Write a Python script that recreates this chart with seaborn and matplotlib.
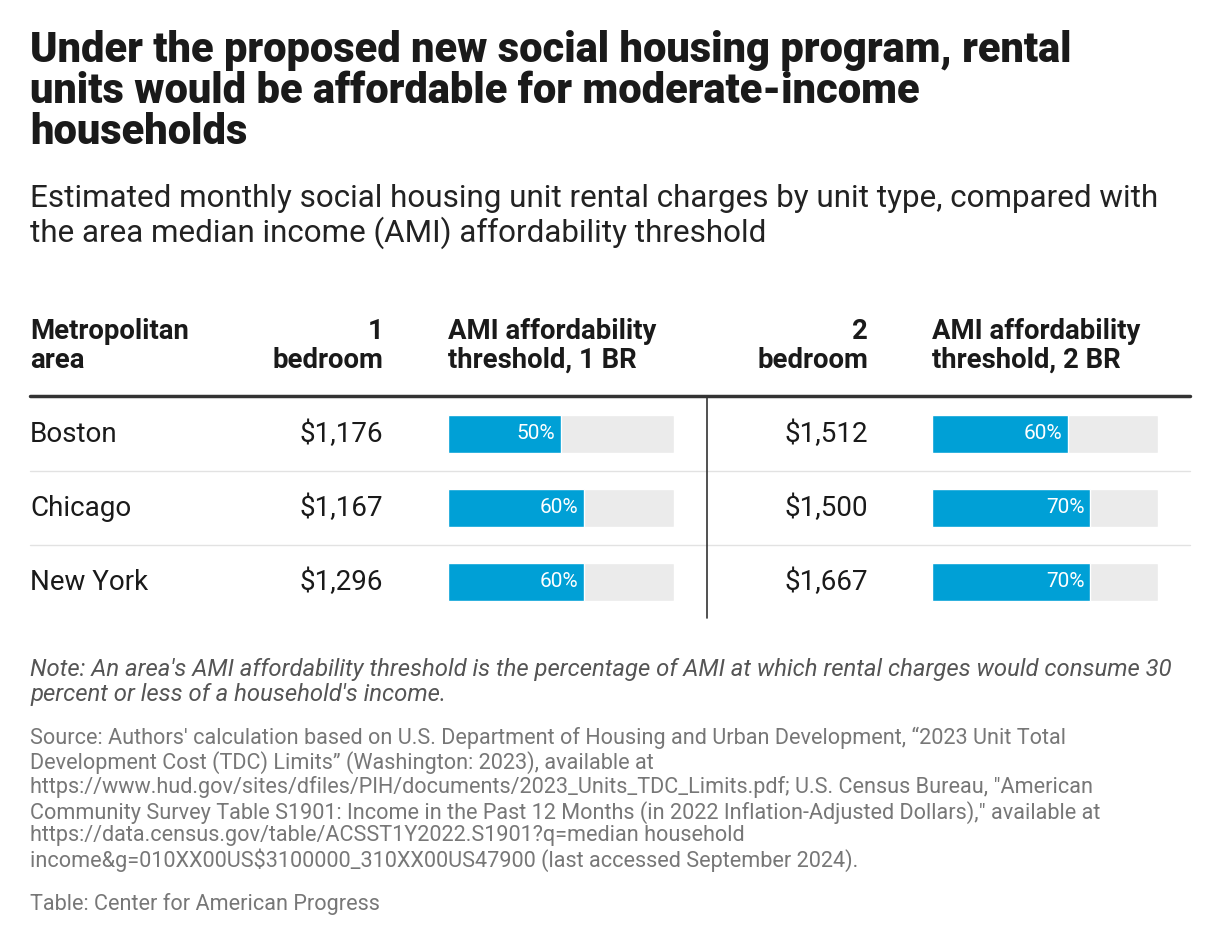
import matplotlib.pyplot as plt
import seaborn as sns

sns.set_style("white")
plt.rcParams['font.family'] = ['Roboto', 'DejaVu Sans']

areas = ["Boston", "Chicago", "New York"]
one_br = ["$1,176", "$1,167", "$1,296"]
ami_1br = [50, 60, 60]
two_br = ["$1,512", "$1,500", "$1,667"]
ami_2br = [60, 70, 70]

W, H = 1220, 948
fig = plt.figure(figsize=(W / 100, H / 100), dpi=100)
ax = fig.add_axes([0, 0, 1, 1])
ax.set_xlim(0, W)
ax.set_ylim(H, 0)
ax.axis("off")

dark = "#1a1a1a"
ax.text(30, 30, "Under the proposed new social housing program, rental\nunits would be affordable for moderate-income\nhouseholds",
        fontsize=30, fontweight="heavy", va="top", color=dark, linespacing=1.0)
ax.text(30, 184, "Estimated monthly social housing unit rental charges by unit type, compared with\nthe area median income (AMI) affordability threshold",
        fontsize=22.6, va="top", color="#222222", linespacing=1.15)

hdr = dict(fontsize=19.8, fontweight="bold", va="top", color=dark, linespacing=1.08)
ax.text(30, 318, "Metropolitan\narea", **hdr)
ax.text(383, 318, "1\nbedroom", ha="right", **hdr)
ax.text(448, 318, "AMI affordability\nthreshold, 1 BR", **hdr)
ax.text(868, 318, "2\nbedroom", ha="right", **hdr)
ax.text(932, 318, "AMI affordability\nthreshold, 2 BR", **hdr)

ax.plot([30, 1190], [396, 396], color="#333333", lw=2.5)
for y in [471, 545]:
    ax.plot([30, 1190], [y, y], color="#e2e2e2", lw=1)
ax.plot([707, 707], [398, 618], color="#333333", lw=1.2)

row_y = [434, 508, 582]
for y, a, v1, v2 in zip(row_y, areas, one_br, two_br):
    ax.text(30, y, a, fontsize=20, va="center", color=dark)
    ax.text(383, y, v1, fontsize=20, va="center", ha="right", color=dark)
    ax.text(868, y, v2, fontsize=20, va="center", ha="right", color=dark)


def bar_col(x0, vals):
    bx = fig.add_axes([x0 / W, 1 - 619 / H, 226 / W, 222 / H])
    bx.barh(range(3), [100] * 3, height=0.52, color="#ebebeb")
    bx.barh(range(3), vals, height=0.52, color="#00a0d6")
    for i, v in enumerate(vals):
        bx.text(v - 2.5, i, f"{v}%", ha="right", va="center", color="white", fontsize=15)
    bx.set_xlim(0, 100)
    bx.set_ylim(2.5, -0.5)
    bx.axis("off")


bar_col(448, ami_1br)
bar_col(932, ami_2br)

ax.text(30, 658, "Note: An area's AMI affordability threshold is the percentage of AMI at which rental charges would consume 30\npercent or less of a household's income.",
        fontsize=17.2, style="italic", va="top", color="#555555", linespacing=1.12)
ax.text(30, 727, "Source: Authors' calculation based on U.S. Department of Housing and Urban Development, \u201c2023 Unit Total\n"
        "Development Cost (TDC) Limits\u201d (Washington: 2023), available at\n"
        "https://www.hud.gov/sites/dfiles/PIH/documents/2023_Units_TDC_Limits.pdf; U.S. Census Bureau, \"American\n"
        "Community Survey Table S1901: Income in the Past 12 Months (in 2022 Inflation-Adjusted Dollars),\" available at\n"
        "https://data.census.gov/table/ACSST1Y2022.S1901?q=median household\n"
        "income&g=010XX00US$3100000_310XX00US47900 (last accessed September 2024).",
        fontsize=15.6, va="top", color="#777777", linespacing=1.12)
ax.text(30, 893, "Table: Center for American Progress", fontsize=15.6, va="top", color="#777777")

fig.savefig("out.png", dpi=100)
